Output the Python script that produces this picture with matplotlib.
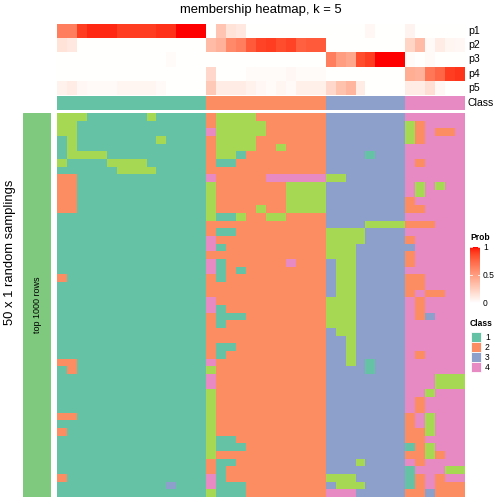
import numpy as np
import matplotlib
matplotlib.use('Agg')
import matplotlib.pyplot as plt
from matplotlib.colors import ListedColormap, BoundaryNorm
from matplotlib.patches import Rectangle

plt.rcParams['font.family'] = ['Liberation Sans', 'DejaVu Sans']

# ---------------- data ----------------
title = "membership heatmap, k = 5"
row_title = "50 x 1 random samplings"
strip_label = "top 1000 rows"
ann_names = ["p1", "p2", "p3", "p4", "p5"]
class_labels = ["1", "2", "3", "4"]
class_sizes = [15, 12, 8, 6]

p1 = [0.65, 0.65, 0.9, 0.95, 0.95, 0.95, 0.9, 0.9, 0.9, 0.9, 0.93, 0.93, 1.0, 1.0, 1.0,
      0.0, 0.3, 0.15, 0.12, 0, 0, 0, 0, 0, 0, 0, 0,
      0, 0, 0, 0, 0.04, 0, 0, 0,
      0.06, 0, 0, 0, 0, 0]
p2 = [0.15, 0.12, 0, 0, 0, 0, 0, 0, 0, 0, 0, 0, 0, 0, 0,
      0.35, 0.4, 0.6, 0.65, 0.8, 0.88, 0.9, 0.85, 0.88, 0.78, 0.8, 0.8,
      0, 0, 0, 0, 0, 0, 0, 0,
      0.22, 0.35, 0.03, 0.1, 0.05, 0.04]
p3 = [0, 0, 0, 0, 0, 0, 0, 0, 0, 0, 0, 0.02, 0, 0, 0,
      0, 0, 0, 0, 0, 0, 0, 0, 0, 0, 0, 0,
      0.65, 0.5, 0.45, 0.85, 0.9, 1.0, 1.0, 1.0,
      0.02, 0, 0.03, 0, 0, 0]
p4 = [0, 0, 0, 0, 0, 0, 0, 0, 0, 0, 0, 0, 0, 0, 0,
      0.2, 0, 0, 0, 0.02, 0.02, 0.02, 0.02, 0.04, 0.02, 0.02, 0.02,
      0, 0, 0, 0, 0, 0, 0, 0,
      0.42, 0.4, 0.68, 0.75, 0.9, 0.92]
p5 = [0.07, 0.1, 0.04, 0.03, 0.03, 0.03, 0.05, 0.05, 0.05, 0.05, 0.03, 0, 0, 0, 0,
      0.28, 0.1, 0.1, 0.1, 0.07, 0.04, 0.02, 0.05, 0.03, 0.08, 0.08, 0.08,
      0.2, 0.32, 0.38, 0.1, 0, 0, 0, 0,
      0.1, 0.1, 0.17, 0.04, 0, 0]

C1 = "111111111111111"
C2 = "222222222222"
C3 = "33333333"
C4 = "444444"
membership_rows = [
    "555111111511111" + "255552222222" + C3 + C4,
    "551111111111111" + "255555222222" + C3 + "524444",
    "551111111111111" + "455555222222" + C3 + "524224",
    "151111111151111" + "255552222222" + C3 + "524444",
    "151111111111111" + "255552252222" + C3 + C4,
    "155551111111111" + "255122222222" + "33331333" + C4,
    "511115555111111" + "211222222222" + C3 + "424444",
    "111111555511111" + C2 + C3 + C4,
    "221111111111111" + "422222444444" + "55333333" + C4,
    "221111111111111" + "522222225555" + C3 + "454544",
    "221111111111111" + "522222225555" + C3 + "454444",
    "221111111111111" + "522222225555" + C3 + "244444",
    "221111111111111" + "522225225555" + C3 + "224444",
    C1 + "511522552222" + C3 + C4,
    C1 + C2 + "33335555" + "222444",
    C1 + "211222222222" + "55553333" + C4,
    C1 + "422222222222" + "55553333" + "244444",
    C1 + "412222222222" + "55533333" + "344444",
    C1 + C2 + "55533333" + "244444",
    C1 + "412222224222" + "35533333" + "244444",
    C1 + "412122222222" + "35533333" + C4,
    "211111111111111" + "212222222222" + "35533333" + "224444",
    C1 + C2 + "35533333" + "224444",
    C1 + C2 + "35533333" + "242244",
    C1 + "422222222222" + "55533333" + "424444",
    C1 + "412222222222" + "55533333" + "424444",
    C1 + "211122222222" + "55533333" + "423444",
    C1 + "212222222222" + "55533333" + C4,
    C1 + C2 + "35533333" + C4,
    C1 + C2 + "33533333" + C4,
    C1 + "211222222222" + "33533333" + C4,
    C1 + "212222222222" + "33533333" + "424444",
    "221111111111111" + "422222222222" + "33531333" + C4,
    "121111111111111" + "522222222222" + "33331333" + C4,
    C1 + "422222222222" + C3 + "444555",
    C1 + "422222222222" + C3 + "444555",
    C1 + "522222222222" + C3 + "445444",
    C1 + "522222222222" + C3 + "424444",
    C1 + "522222222222" + C3 + "424444",
    "221111111111111" + "522222222222" + C3 + "245444",
    C1 + "522222222222" + C3 + "245444",
    "211111111111111" + "522222222222" + C3 + "225444",
    C1 + "511222222222" + C3 + "224444",
    C1 + "511122222222" + C3 + "125444",
    C1 + "522222222222" + C3 + "225244",
    C1 + "211222222222" + "33353333" + "424444",
    C1 + "212222222222" + C3 + "144455",
    "211111111111111" + "412222222222" + "55533333" + "124244",
    "111111111113111" + "411122222222" + "35553333" + "124222",
    C1 + "511122222222" + "44433333" + "223222",
]

# ---------------- styles ----------------
class_colors = ["#66C2A5", "#FC8D62", "#8DA0CB", "#E78AC3", "#A6D854"]
strip_color = "#7FC97F"


def lab_to_rgb(L, a, b):
    fy = (L + 16) / 116.0
    fx = fy + a / 500.0
    fz = fy - b / 200.0

    def finv(t):
        return t ** 3 if t ** 3 > 0.008856 else (t - 16 / 116.0) / 7.787
    X = 0.95047 * finv(fx)
    Y = 1.0 * finv(fy)
    Z = 1.08883 * finv(fz)
    r = 3.2406 * X - 1.5372 * Y - 0.4986 * Z
    g = -0.9689 * X + 1.8758 * Y + 0.0415 * Z
    bb = 0.0557 * X - 0.2040 * Y + 1.0570 * Z
    out = []
    for c in (r, g, bb):
        c = 12.92 * c if c <= 0.0031308 else 1.055 * (max(c, 0) ** (1 / 2.4)) - 0.055
        out.append(min(max(c, 0), 1))
    return out


prob_colors = [lab_to_rgb(100 - 46.76 * t, 80.09 * t, 67.20 * t) for t in np.linspace(0, 1, 256)]
prob_cmap = ListedColormap(prob_colors)
class_cmap = ListedColormap(class_colors)
class_norm = BoundaryNorm([0.5, 1.5, 2.5, 3.5, 4.5, 5.5], 5)

W = H = 504
fig = plt.figure(figsize=(7, 7), dpi=72)


def add_ax(x0, y0, x1, y1):
    ax = fig.add_axes([x0 / W, 1 - y1 / H, (x1 - x0) / W, (y1 - y0) / H])
    ax.set_axis_off()
    return ax


def ftext(x, y, s, **kw):
    fig.text(x / W, 1 - y / H, s, **kw)


M = np.array([[int(c) for c in r] for r in membership_rows])
P = np.array([p1, p2, p3, p4, p5])
class_row = np.repeat(np.arange(1, len(class_sizes) + 1), class_sizes)

HX0, HX1 = 57, 465

# probability annotation
ax_p = add_ax(HX0, 24, HX1, 95)
ax_p.imshow(P, cmap=prob_cmap, vmin=0, vmax=1, aspect='auto', interpolation='nearest')

# class annotation
ax_c = add_ax(HX0, 96, HX1, 110)
ax_c.imshow(class_row[None, :], cmap=class_cmap, norm=class_norm, aspect='auto', interpolation='nearest')

# main heatmap
ax_h = add_ax(HX0, 113, HX1, 497)
ax_h.imshow(M, cmap=class_cmap, norm=class_norm, aspect='auto', interpolation='nearest')

# left strip
ax_s = add_ax(23, 113, 51, 497)
ax_s.add_patch(Rectangle((0, 0), 1, 1, color=strip_color, transform=ax_s.transAxes))
ax_s.text(0.5, 0.5, strip_label, rotation=90, ha='center', va='center', fontsize=9,
          transform=ax_s.transAxes)

# texts
ftext(261, 10, title, ha='center', va='center', fontsize=13)
ftext(10, 252, row_title, rotation=90, ha='center', va='center', fontsize=13)
row_h = (95 - 24) / 5.0
for i, name in enumerate(ann_names):
    ftext(468, 24 + row_h * (i + 0.5), name, ha='left', va='center', fontsize=10.5)
ftext(468, 103, "Class", ha='left', va='center', fontsize=10.5)

# Prob legend
ftext(470, 238, "Prob", ha='left', va='center', fontsize=8.5, fontweight='bold')
ax_cb = add_ax(470, 247, 480, 303)
ax_cb.imshow(np.linspace(1, 0, 200)[:, None], cmap=prob_cmap, vmin=0, vmax=1, aspect='auto')
for v, lab in [(1, "1"), (0.5, "0.5"), (0, "0")]:
    yy = 303 - v * 56
    ftext(483, yy + 1, lab, ha='left', va='center', fontsize=8.5)
    yf = 1 - (yy - 247) / 56
    ax_cb.plot([0.0, 0.2], [yf, yf], color='white', lw=0.8, transform=ax_cb.transAxes)
    ax_cb.plot([0.8, 1.0], [yf, yf], color='white', lw=0.8, transform=ax_cb.transAxes)

# Class legend
ftext(470, 323, "Class", ha='left', va='center', fontsize=8.5, fontweight='bold')
for i, lab in enumerate(class_labels):
    y0 = 332 + 10 * i
    fig.patches.append(Rectangle((471 / W, 1 - (y0 + 10) / H), 10 / W, 10 / H,
                                 facecolor=class_colors[i], edgecolor='white', lw=0.8,
                                 transform=fig.transFigure, figure=fig))
    ftext(485, y0 + 5.5, lab, ha='left', va='center', fontsize=8.5)

fig.savefig("out.png", dpi=72)
